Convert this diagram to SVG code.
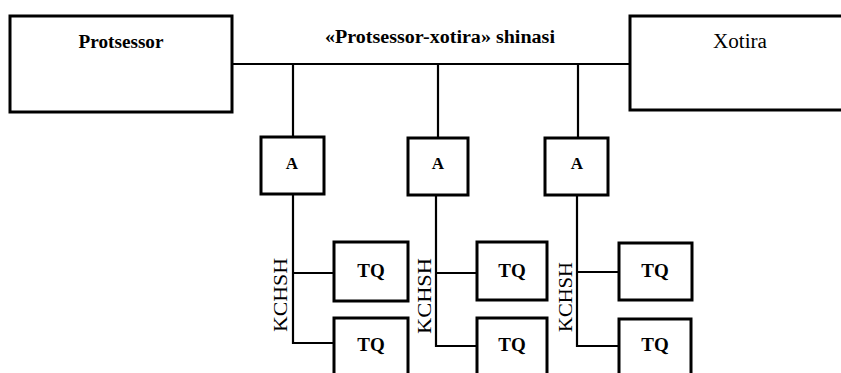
<svg xmlns="http://www.w3.org/2000/svg" width="841" height="373" viewBox="0 0 841 373">
<style>
.box{fill:#fff;stroke:#000;stroke-width:3}
.ln{fill:none;stroke:#000;stroke-width:2.2}
.t{font-family:"Liberation Serif","Times New Roman",serif;font-weight:bold;fill:#000}
.n{font-family:"Liberation Serif","Times New Roman",serif;font-weight:normal;fill:#000}
</style>
<rect width="841" height="373" fill="#fff"/>
<g id="connectors">
<path class="ln" d="M232 64 H630"/>
<path class="ln" d="M293 64 V137"/>
<path class="ln" d="M438 64 V138"/>
<path class="ln" d="M578 64 V138"/>
<path class="ln" d="M293 194 V343 H334 M293 273 H334"/>
<path class="ln" d="M436 195 V346 H477 M436 273 H477"/>
<path class="ln" d="M577 195 V346 H619 M577 272 H619"/>
</g>
<g id="bus-label"><text class="t" x="440" y="43" font-size="18" text-anchor="middle" textLength="230" lengthAdjust="spacingAndGlyphs">«Protsessor-xotira» shinasi</text></g>
<g id="protsessor">
<rect class="box" x="10" y="16" width="222" height="96"/>
<text class="t" x="121" y="48" font-size="19" text-anchor="middle" textLength="85" lengthAdjust="spacingAndGlyphs">Protsessor</text>
</g>
<g id="xotira">
<rect class="box" x="630" y="16" width="220" height="94"/>
<text class="n" x="740" y="48" font-size="20" text-anchor="middle" textLength="54" lengthAdjust="spacingAndGlyphs">Xotira</text>
</g>
<g id="a1"><rect class="box" x="261" y="137" width="63" height="57"/><text class="t" x="292" y="169" font-size="17" text-anchor="middle">A</text></g>
<g id="a2"><rect class="box" x="408" y="138" width="60" height="57"/><text class="t" x="438" y="169" font-size="17" text-anchor="middle">A</text></g>
<g id="a3"><rect class="box" x="545" y="138" width="63" height="57"/><text class="t" x="577" y="169" font-size="17" text-anchor="middle">A</text></g>
<g id="kchsh1"><text class="n" font-size="19" text-anchor="middle" transform="translate(287 295) rotate(-90)" textLength="74" lengthAdjust="spacingAndGlyphs">KCHSH</text></g>
<g id="kchsh2"><text class="n" font-size="19" text-anchor="middle" transform="translate(431 296) rotate(-90)" textLength="76" lengthAdjust="spacingAndGlyphs">KCHSH</text></g>
<g id="kchsh3"><text class="n" font-size="19" text-anchor="middle" transform="translate(572 297) rotate(-90)" textLength="70" lengthAdjust="spacingAndGlyphs">KCHSH</text></g>
<g id="tq1a"><rect class="box" x="334" y="242" width="74" height="59"/><text class="t" x="371" y="277" font-size="19" text-anchor="middle">TQ</text></g>
<g id="tq2a"><rect class="box" x="477" y="242" width="70" height="58"/><text class="t" x="512" y="277" font-size="19" text-anchor="middle">TQ</text></g>
<g id="tq3a"><rect class="box" x="619" y="243" width="73" height="57"/><text class="t" x="655" y="277" font-size="19" text-anchor="middle">TQ</text></g>
<g id="tq1b"><rect class="box" x="334" y="318" width="74" height="70"/><text class="t" x="371" y="351" font-size="19" text-anchor="middle">TQ</text></g>
<g id="tq2b"><rect class="box" x="477" y="318" width="70" height="70"/><text class="t" x="512" y="351" font-size="19" text-anchor="middle">TQ</text></g>
<g id="tq3b"><rect class="box" x="619" y="319" width="72" height="70"/><text class="t" x="655" y="351" font-size="19" text-anchor="middle">TQ</text></g>
</svg>
